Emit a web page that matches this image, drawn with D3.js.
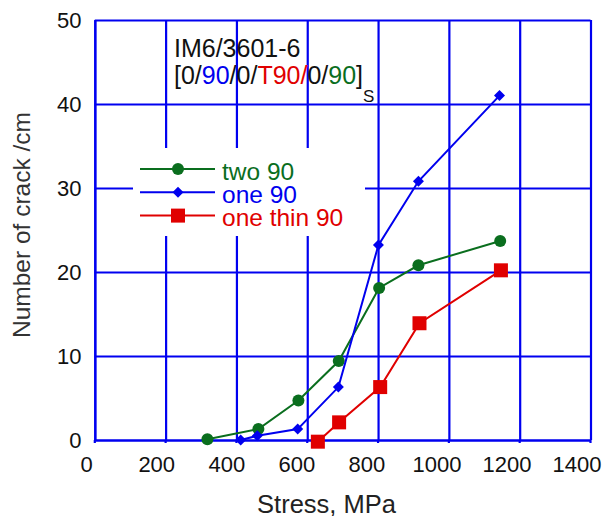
<!DOCTYPE html>
<html>
<head>
<meta charset="utf-8">
<script src="https://cdn.jsdelivr.net/npm/d3@7"></script>
<style>
  body { margin: 0; background: #fff; }
  svg { display: block; font-family: "Liberation Sans", Arial, sans-serif; }
</style>
</head>
<body>
<svg width="609" height="516"></svg>
<script>
// series values (stress in MPa, cracks per cm)
var twoStress = [318, 462, 575, 689, 803, 914, 1145];
var twoCracks = [0.1, 1.3, 4.7, 9.4, 18.1, 20.8, 23.7];
var oneStress = [412, 459, 573, 688, 801, 914, 1143];
var oneCracks = [0.0, 0.5, 1.3, 6.3, 23.2, 30.8, 41.0];
var thinStress = [630, 690, 806, 917, 1147];
var thinCracks = [-0.2, 2.1, 6.3, 13.9, 20.2];

var xTicks = [0, 200, 400, 600, 800, 1000, 1200, 1400];
var yTicks = [0, 10, 20, 30, 40, 50];
var seriesNames = ["two 90", "one 90", "one thin 90"];

var svg = d3.select("svg");
var plotL = 94.8, plotR = 590.5, plotT = 20, plotB = 440;
var blue = "#0000f0";

var x = d3.scaleLinear().domain([0, 1400]).range([plotL, plotR]);
var y = d3.scaleLinear().domain([0, 50]).range([plotB, plotT]);
// the tick labels sit on a slightly tighter spacing than the grid
var xLab = d3.scaleLinear().domain([0, 1400]).range([86.7, 577]);

// grid + frame drawn with axes
svg.append("g")
    .attr("transform", "translate(0," + plotB + ")")
    .call(d3.axisBottom(x).tickValues(xTicks).tickSize(-(plotB - plotT)).tickSizeOuter(0).tickFormat(""));
svg.append("g")
    .attr("transform", "translate(" + plotL + ",0)")
    .call(d3.axisLeft(y).tickValues(yTicks).tickSize(-(plotR - plotL)).tickSizeOuter(0).tickFormat(""));
svg.selectAll(".domain").attr("stroke", blue).attr("stroke-width", 2.2);
svg.selectAll(".tick line").attr("stroke", blue).attr("stroke-width", 2.2);

// small outside tick stubs
svg.append("g").selectAll("line").data(xTicks).enter().append("line")
    .attr("x1", d => x(d)).attr("x2", d => x(d))
    .attr("y1", plotB).attr("y2", plotB + 3)
    .attr("stroke", blue).attr("stroke-width", 2.2);

// tick labels
svg.append("g").selectAll("text").data(xTicks).enter().append("text")
    .attr("x", d => xLab(d)).attr("y", 471.5)
    .attr("text-anchor", "middle").attr("font-size", 22).attr("fill", "#111")
    .text(d => d);
svg.append("g").selectAll("text").data(yTicks).enter().append("text")
    .attr("x", 81.5).attr("y", d => y(d) + 7.5)
    .attr("text-anchor", "end").attr("font-size", 22).attr("fill", "#111")
    .text(d => d);

// axis titles
svg.append("text")
    .attr("x", 326.5).attr("y", 512.5)
    .attr("text-anchor", "middle").attr("font-size", 25.5).attr("fill", "#222")
    .text("Stress, MPa");
svg.append("text")
    .attr("transform", "translate(30,225) rotate(-90)")
    .attr("text-anchor", "middle").attr("font-size", 24.5).attr("fill", "#333")
    .text("Number of crack /cm");

// annotation
svg.append("text").attr("x", 174).attr("y", 56.5).attr("font-size", 25).attr("fill", "#111")
    .text("IM6/3601-6");
var lay = svg.append("text").attr("x", 174).attr("y", 83.5).attr("font-size", 25).attr("fill", "#111");
[["[0/", "#111"], ["90", "#0000ee"], ["/0/", "#111"], ["T90/", "#e00000"],
 ["0/", "#111"], ["90", "#0a6e1e"], ["]", "#111"]].forEach(function (p) {
    lay.append("tspan").attr("fill", p[1]).text(p[0]);
});
svg.append("text").attr("x", 363).attr("y", 101.5).attr("font-size", 17).attr("fill", "#111").text("S");

// series
var series = [
    {name: seriesNames[0], xs: twoStress, ys: twoCracks, color: "#0a6e1e", shape: "circle"},
    {name: seriesNames[1], xs: oneStress, ys: oneCracks, color: "#0000ee", shape: "diamond"},
    {name: seriesNames[2], xs: thinStress, ys: thinCracks, color: "#e00000", shape: "square"}
];

function marker(g, shape, color) {
    if (shape === "circle") {
        g.append("circle").attr("r", 6).attr("fill", color);
    } else if (shape === "diamond") {
        g.append("path").attr("d", "M0,-5.5L5.5,0L0,5.5L-5.5,0Z").attr("fill", color);
    } else {
        g.append("rect").attr("x", -7).attr("y", -7).attr("width", 14).attr("height", 14).attr("fill", color);
    }
}

// legend box hides the grid behind it
var legend = svg.append("g");
legend.append("rect").attr("x", 133).attr("y", 148).attr("width", 232).attr("height", 88).attr("fill", "#fff");

var line = d3.line().x(d => x(d[0])).y(d => y(d[1]));

series.forEach(function (s) {
    var pts = s.xs.map(function (v, i) { return [v, s.ys[i]]; });
    svg.append("path")
        .attr("d", line(pts))
        .attr("fill", "none").attr("stroke", s.color).attr("stroke-width", 2);
    pts.forEach(function (p) {
        var g = svg.append("g").attr("transform", "translate(" + x(p[0]) + "," + y(p[1]) + ")");
        marker(g, s.shape, s.color);
    });
});

series.forEach(function (s, i) {
    var ly = 169 + i * 23.3;
    legend.append("line").attr("x1", 140).attr("x2", 215).attr("y1", ly).attr("y2", ly)
        .attr("stroke", s.color).attr("stroke-width", 2);
    var g = legend.append("g").attr("transform", "translate(178," + ly + ")");
    marker(g, s.shape, s.color);
    legend.append("text").attr("x", 222).attr("y", ly + 10.5).attr("font-size", 24.5)
        .attr("fill", s.color).text(s.name);
});
</script>
</body>
</html>
